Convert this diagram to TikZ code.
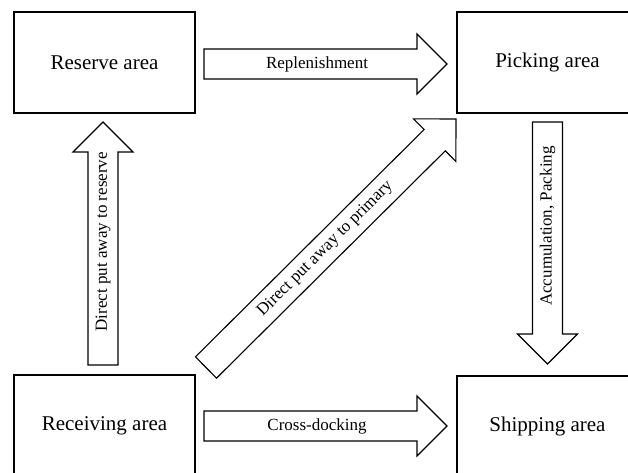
\documentclass[tikz,border=0pt]{standalone}
\usepackage{fontspec}
\setmainfont{Liberation Serif}
\usetikzlibrary{calc}

% Block arrow from tail centre #1 to tip #2: shaft 30pt wide, head 60pt wide and 30pt long
\newcommand\blockarrow[2]{%
  \coordinate (ba-s) at ($(#2)!30pt!(#1)$);
  \draw[barrow] ($(#1)!15pt!90:(#2)$) -- ($(ba-s)!15pt!90:(#2)$)
    -- ($(ba-s)!30pt!90:(#2)$) -- (#2) -- ($(ba-s)!30pt!-90:(#2)$)
    -- ($(ba-s)!15pt!-90:(#2)$) -- ($(#1)!15pt!-90:(#2)$) -- cycle;}

\begin{document}
\begin{tikzpicture}[x=1pt,y=-1pt,
  area/.style={draw, line width=1.8pt, minimum width=181pt, minimum height=101pt,
    inner sep=0pt, font=\fontsize{21}{25}\selectfont},
  barrow/.style={draw, line width=1.1pt, fill=white, line join=miter},
  arrowlabel/.style={font=\fontsize{17}{20}\selectfont, inner sep=0pt}]
\useasboundingbox (0,0) rectangle (628,473);
\clip (0,0) rectangle (628,473);

% storage areas
\node[area] (reserve)   at (104.5,62.5)  {Reserve area};
\node[area] (picking)   at (547.5,62.5)  {Picking area};
\node[area] (receiving) at (104.5,425.5) {Receiving area};
\node[area] (shipping)  at (547.5,426.5) {Shipping area};

% arrow end points
\coordinate (rep-a) at (204,64);    \coordinate (rep-b) at (447,64);
\coordinate (xd-a)  at (204,426);   \coordinate (xd-b)  at (447,426);
\coordinate (dr-a)  at (103,365);   \coordinate (dr-b)  at (103,122);
\coordinate (ap-a)  at (547.5,122); \coordinate (ap-b)  at (547.5,364);
\coordinate (dp-a)  at (206,367.5); \coordinate (dp-b)  at (456,119);

% flows
\blockarrow{rep-a}{rep-b}
\node[arrowlabel] at ($(rep-a)!0.465!(rep-b)$) {Replenishment};

\blockarrow{xd-a}{xd-b}
\node[arrowlabel] at ($(xd-a)!0.465!(xd-b)$) {Cross-docking};

\blockarrow{dr-a}{dr-b}
\node[arrowlabel, rotate=90] at ($(dr-a)!0.507!(dr-b)$) {Direct put away to reserve};

\blockarrow{ap-a}{ap-b}
\node[arrowlabel, rotate=90] at ($(ap-a)!0.43!(ap-b)$) {Accumulation, Packing};

\blockarrow{dp-a}{dp-b}
\node[arrowlabel, rotate=45] at ($(dp-a)!0.477!(dp-b)$) {Direct put away to primary};
\end{tikzpicture}
\end{document}
